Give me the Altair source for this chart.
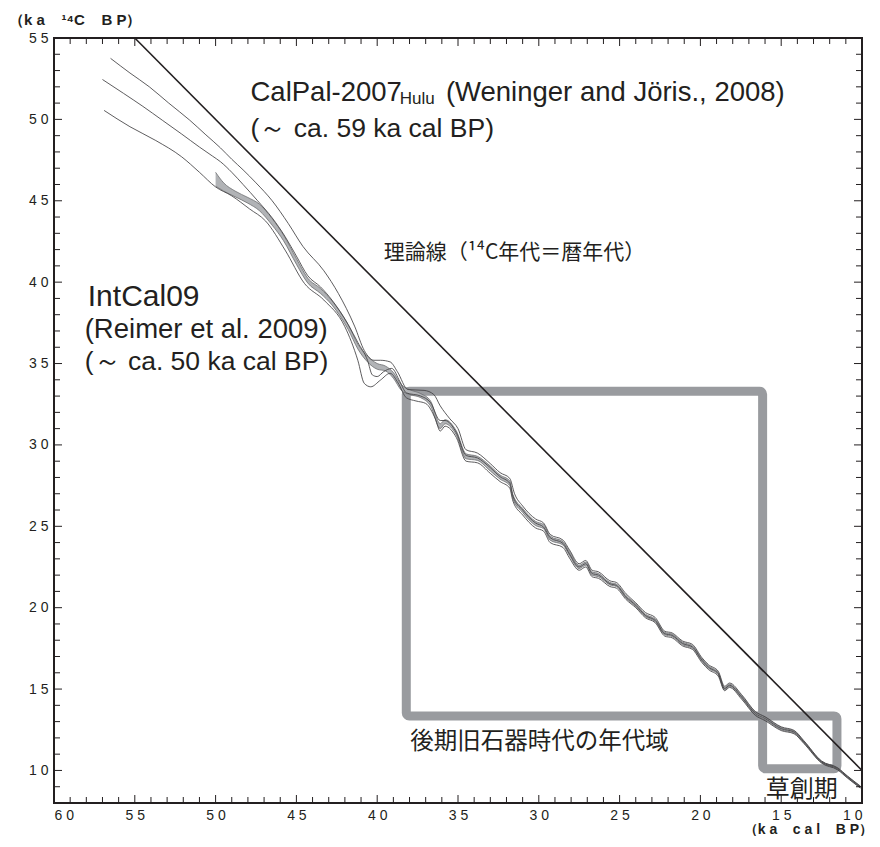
import altair as alt
import pandas as pd

# ---------------- data ----------------
intcal_x = [50.0,49.5,48.8,48.0,47.3,46.5,45.8,45.0,44.3,43.5,42.8,41.8,41.2,40.6,40.0,39.5,39.0,38.5,38.0,37.3,36.7,36.1,35.8,35.1,34.5,33.8,33.0,32.4,31.8,31.6,31.0,30.2,29.7,29.3,28.5,28.1,27.5,27.1,26.7,26.3,25.6,25.2,24.6,24.0,23.4,22.8,22.2,21.75,21.1,20.5,19.9,19.5,18.9,18.5,18.2,17.45,16.6,16.0,15.0,14.2,13.6,12.5,11.5,10.9,10.1]
intcal_lo = [45.9,45.6,45.25,44.85,44.4,43.5,42.55,41.1,39.95,39.3,38.6,37.1,35.9,35.1,34.65,34.55,34.1,33.35,33.1,32.9,32.4,31.0,31.3,30.6,29.15,29.05,28.4,27.9,27.5,26.7,25.85,25.05,24.85,24.15,23.85,23.2,22.4,22.6,22.0,21.9,21.4,21.3,20.58,20.07,19.45,19.15,18.33,18.23,17.72,17.51,16.7,16.28,15.88,14.96,15.16,14.45,13.43,13.12,12.5,12.3,11.7,10.48,10.06,9.56,8.94]
intcal_hi = [46.75,46.1,45.6,45.2,44.8,43.9,42.9,41.45,40.25,39.6,38.85,37.4,36.2,35.45,35.0,34.85,34.45,33.7,33.4,33.15,32.7,31.3,31.55,30.85,29.45,29.3,28.7,28.15,27.8,26.95,26.1,25.3,25.1,24.4,24.05,23.45,22.6,22.8,22.2,22.1,21.55,21.45,20.74,20.23,19.6,19.3,18.48,18.38,17.88,17.67,16.85,16.43,16.02,15.1,15.3,14.6,13.57,13.26,12.64,12.42,11.8,10.56,10.14,9.64,9.02]

calpal_hi_x = [56.5,55.3,54.1,52.9,51.6,50.6,49.7,49.0,48.3,47.5,46.5,45.5,44.6,43.3,42.4,41.4,40.8,40.2,39.8,39.2,38.75,38.1,37.1,36.5,36.1,35.5,35.0,34.5,33.8,33.0,32.4,31.8,31.5,31.0,30.2,29.7,29.3,28.5,28.1,27.5,27.1,26.7,26.3,25.6,25.2,24.6,24.0,23.4,22.8,22.2,21.75,21.1,20.5,19.9,19.5,18.9,18.5,18.2,17.45,16.6,16.0,15.0,14.2,13.6,12.5,11.5,10.9,10.1]
calpal_hi_y = [53.75,52.85,52.0,51.0,49.95,49.05,48.25,47.55,46.9,46.1,45.0,43.6,42.2,40.7,39.3,37.3,35.8,35.2,35.2,35.1,34.5,33.4,33.35,33.1,32.4,31.6,31.0,29.7,29.5,28.85,28.3,27.95,27.0,26.25,25.45,25.2,24.5,24.15,23.55,22.7,22.9,22.3,22.2,21.65,21.55,20.85,20.3,19.7,19.4,18.55,18.45,17.95,17.75,16.92,16.5,16.1,15.17,15.37,14.66,13.62,13.3,12.68,12.46,11.83,10.58,10.16,9.66,9.04]

calpal_mid_x = [57.0,55.7,54.5,53.3,52.1,51.0,50.2,49.7,49.0,48.3,47.4,46.5,45.7,45.0,44.3,43.5,42.8,41.8,41.2,40.6,40.3,40.0,39.6,39.1,38.6,38.2,37.3,36.7,36.1,35.8,35.1,34.5,33.8,33.0,32.4,31.8,31.6,31.0,30.2,29.7,29.3,28.5,28.1,27.5,27.1,26.7,26.3,25.6,25.2,24.6,24.0,23.4,22.8,22.2,21.75,21.1,20.5,19.9,19.5,18.9,18.5,18.2,17.45,16.6,16.0,15.0,14.2,13.6,12.5,11.5,10.9,10.1]
calpal_mid_y = [52.45,51.6,50.8,49.95,49.1,48.3,47.75,47.4,46.75,46.0,45.0,43.95,42.8,41.6,40.4,39.7,38.9,37.4,36.3,35.2,34.3,34.2,34.5,34.7,33.9,33.2,33.0,32.6,31.5,31.5,30.75,29.35,29.2,28.6,28.05,27.65,26.85,26.0,25.2,24.95,24.3,23.95,23.3,22.5,22.7,22.1,22.0,21.47,21.37,20.66,20.15,19.52,19.22,18.4,18.3,17.8,17.59,16.77,16.35,15.95,15.03,15.23,14.52,13.5,13.19,12.57,12.36,11.75,10.52,10.1,9.6,8.98]

calpal_lo_x = [56.9,55.3,53.7,52.1,51.0,50.0,49.0,47.9,46.9,45.7,44.5,43.3,42.0,41.2,40.8,40.4,39.8,39.2,38.7,38.2,37.6,37.0,36.4,36.1,35.8,35.1,34.5,33.8,33.0,32.4,31.8,31.6,31.0,30.2,29.7,29.3,28.5,28.1,27.5,27.1,26.7,26.3,25.6,25.2,24.6,24.0,23.4,22.8,22.2,21.75,21.1,20.5,19.9,19.5,18.9,18.5,18.2,17.45,16.6,16.0,15.0,14.2,13.6,12.5,11.5,10.9,10.1]
calpal_lo_y = [50.55,49.55,48.7,47.7,46.75,45.85,45.3,44.5,43.75,41.97,39.92,38.9,37.26,35.2,33.78,33.57,33.98,34.4,33.8,32.9,32.7,32.55,31.6,30.85,31.15,30.45,29.0,28.9,28.25,27.75,27.35,26.55,25.7,24.9,24.7,24.0,23.7,23.05,22.3,22.5,21.9,21.8,21.3,21.2,20.5,20.0,19.38,19.08,18.25,18.15,17.65,17.44,16.62,16.2,15.8,14.9,15.1,14.38,13.38,13.06,12.45,12.25,11.66,10.45,10.03,9.53,8.92]

theory_x = [55, 10]
theory_y = [55, 10]

box_names = ["後期旧石器時代", "草創期"]
box_x1 = [38.2, 16.15]
box_x2 = [16.15, 11.55]
box_y1 = [33.3, 13.35]
box_y2 = [13.35, 10.1]

x_label_values = [60, 55, 50, 45, 40, 35, 30, 25, 20, 15, 10]
y_label_values = [55, 50, 45, 40, 35, 30, 25, 20, 15, 10]
x_major_ticks = [55, 50, 45, 40, 35, 30, 25, 20, 15]
x_minor_ticks = [v for v in range(11, 60) if v % 5]
y_major_ticks = [55, 50, 45, 40, 35, 30, 25, 20, 15, 10]
y_minor_ticks = [v for v in range(9, 55) if v % 5]

latin_text = ["CalPal-2007", "Hulu", "(Weninger and Jöris., 2008)", "(～ ca. 59 ka cal BP)",
              "IntCal09", "(Reimer et al. 2009)", "(～ ca. 50 ka cal BP)"]
latin_x = [47.84, 38.6, 35.75, 47.84, 57.91, 58.1, 58.1]
latin_y = [51.13, 50.94, 51.13, 48.92, 38.53, 36.56, 34.59]
latin_size = [27.5, 17, 27.5, 26.5, 30, 27.5, 26.5]

jp_text = ["理論線（¹⁴C年代＝暦年代）", "後期旧石器時代の年代域", "草創期"]
jp_x = [39.6, 37.95, 15.96]
jp_y = [41.42, 11.30, 8.35]
jp_size = [21, 23.5, 24]

NB = "\u00a0"
ytitle_text = "（k" + NB + "a" + NB * 4 + "¹⁴C" + NB * 4 + "B" + NB + "P）"
xtitle_text = "（k" + NB + "a" + NB * 4 + "c" + NB + "a" + NB + "l" + NB * 4 + "B" + NB + "P）"

# ---------------- chart ----------------
W, H = 808, 765
INK = "#231f20"
xs = alt.Scale(domain=[10, 60], reverse=True, nice=False, zero=False)
ys = alt.Scale(domain=[8, 55], nice=False, zero=False)
spaced = "substring(datum.label,0,1) + ' ' + substring(datum.label,1)"
xaxis = alt.Axis(values=x_label_values, labelExpr=spaced, ticks=False, domain=False, grid=False,
                 labelFontSize=14, labelColor=INK, labelPadding=5, labelFont="Liberation Sans",
                 title=None)
yaxis = alt.Axis(values=y_label_values, labelExpr=spaced, ticks=False, domain=False, grid=False,
                 labelFontSize=14, labelColor=INK, labelPadding=6, labelFont="Liberation Sans",
                 title=None)


def X(f):
    return alt.X(f, type="quantitative", scale=xs, axis=xaxis)


def Y(f):
    return alt.Y(f, type="quantitative", scale=ys, axis=yaxis)


df_ic = pd.DataFrame({"x": intcal_x, "lo": intcal_lo, "hi": intcal_hi})
rows = []
for name, xx, yy in [("hi", calpal_hi_x, calpal_hi_y), ("mid", calpal_mid_x, calpal_mid_y),
                     ("lo", calpal_lo_x, calpal_lo_y)]:
    for a, b in zip(xx, yy):
        rows.append({"x": a, "y": b, "s": name})
df_cp = pd.DataFrame(rows)
df_th = pd.DataFrame({"x": theory_x, "y": theory_y})
df_box = pd.DataFrame({"name": box_names, "x": box_x1, "x2": box_x2, "y": box_y1, "y2": box_y2})
df_lat = pd.DataFrame({"x": latin_x, "y": latin_y, "t": latin_text, "fs": latin_size})
df_jp = pd.DataFrame({"x": jp_x, "y": jp_y, "t": jp_text, "fs": jp_size})

boxes = alt.Chart(df_box).mark_rect(fillOpacity=0, stroke="#999b9f", strokeWidth=9,
                                     cornerRadius=3).encode(
    x=X("x"), x2="x2", y=Y("y"), y2="y2")

band = alt.Chart(df_ic).mark_area(color="#b1b3b6", opacity=1, interpolate="monotone").encode(
    x=X("x"), y=Y("lo"), y2="hi")
band_lo = alt.Chart(df_ic).mark_line(color="#6d6e71", strokeWidth=0.8, interpolate="monotone").encode(
    x=X("x"), y=Y("lo"))
band_hi = alt.Chart(df_ic).mark_line(color="#6d6e71", strokeWidth=0.8, interpolate="monotone").encode(
    x=X("x"), y=Y("hi"))

calpal = alt.Chart(df_cp).mark_line(color="#414042", strokeWidth=0.85, interpolate="monotone").encode(
    x=X("x"), y=Y("y"), detail="s:N")

theory = alt.Chart(df_th).mark_line(color=INK, strokeWidth=1.6).encode(x=X("x"), y=Y("y"))


def yticks(vals, length):
    d = pd.DataFrame({"y": vals})
    left = alt.Chart(d).mark_rule(color=INK, strokeWidth=1).encode(
        y=Y("y"), x=alt.value(0), x2=alt.value(length))
    right = alt.Chart(d).mark_rule(color=INK, strokeWidth=1).encode(
        y=Y("y"), x=alt.value(W), x2=alt.value(W - length))
    return [left, right]


def xticks(vals, length):
    d = pd.DataFrame({"x": vals})
    bottom = alt.Chart(d).mark_rule(color=INK, strokeWidth=1).encode(
        x=X("x"), y=alt.value(H), y2=alt.value(H - length))
    top = alt.Chart(d).mark_rule(color=INK, strokeWidth=1).encode(
        x=X("x"), y=alt.value(0), y2=alt.value(length))
    return [bottom, top]


ticks = yticks(y_major_ticks, 8) + yticks(y_minor_ticks, 6) + xticks(x_major_ticks, 8) + xticks(x_minor_ticks, 6)

lat = alt.Chart(df_lat).mark_text(align="left", baseline="alphabetic", font="Liberation Sans",
                                   color=INK).encode(
    x=X("x"), y=Y("y"), text="t:N", size=alt.Size("fs:Q", scale=None))
jp = alt.Chart(df_jp).mark_text(align="left", baseline="alphabetic", font="Noto Sans CJK JP",
                                 color=INK).encode(
    x=X("x"), y=Y("y"), text="t:N", size=alt.Size("fs:Q", scale=None))

ytitle = alt.Chart(pd.DataFrame({"t": [ytitle_text]})).mark_text(
    align="left", baseline="middle", fontWeight="bold", fontSize=15, font="Liberation Sans",
    color=INK).encode(text="t:N", x=alt.value(-45), y=alt.value(-18))
xtitle = alt.Chart(pd.DataFrame({"t": [xtitle_text]})).mark_text(
    align="right", baseline="middle", fontWeight="bold", fontSize=14, font="Liberation Sans",
    color=INK).encode(text="t:N", x=alt.value(819), y=alt.value(792))

chart = alt.layer(boxes, band, band_lo, band_hi, calpal, theory, *ticks, lat, jp, ytitle, xtitle).properties(
    width=W, height=H,
    autosize=alt.AutoSizeParams(type="none"),
    padding={"left": 46, "top": 30, "right": 10, "bottom": 33},
).configure_view(stroke=INK, strokeWidth=2)

chart.save("out.html", embed_options={"renderer": "svg", "actions": False})
